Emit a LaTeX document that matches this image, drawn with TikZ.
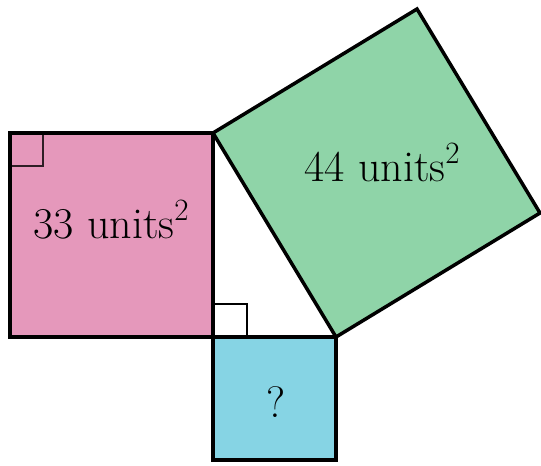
\documentclass[tikz,border=0pt]{standalone}
\newcommand{\supsq}{\raisebox{0.40em}{\fontsize{31}{31}\selectfont 2}}
\begin{document}
\begin{tikzpicture}[x=1pt,y=-1pt,
  sq/.style={draw=black,line width=3.5pt,line join=miter},
  anglemark/.style={draw=black,line width=1.3pt},
  lbl/.style={font=\fontsize{44}{52}\selectfont,inner sep=0pt}]
\definecolor{pinkc}{RGB}{229,152,187}
\definecolor{greenc}{RGB}{143,212,168}
\definecolor{bluec}{RGB}{134,212,228}
\useasboundingbox (0,0) rectangle (541,466);
\coordinate (A) at (213,133);
\coordinate (C) at (213,337);
\coordinate (B) at (336,337);
\coordinate (P1) at (10,133);
\coordinate (P2) at (10,337);
\coordinate (Q1) at (213,460);
\coordinate (Q2) at (336,460);
\coordinate (G1) at (417,9);
\coordinate (G2) at (540,213);
\fill[pinkc] (P1) -- (A) -- (C) -- (P2) -- cycle;
\fill[bluec] (C) -- (B) -- (Q2) -- (Q1) -- cycle;
\fill[greenc] (A) -- (G1) -- (G2) -- (B) -- cycle;
\draw[anglemark,draw=black!80!pinkc] (10,166) -- (43,166) -- (43,133);
\draw[anglemark] (213,304) -- (247,304) -- (247,337);
\draw[sq] (P1) -- (A) -- (C) -- (P2) -- cycle;
\draw[sq] (C) -- (B) -- (Q2) -- (Q1) -- cycle;
\draw[sq] (A) -- (G1) -- (G2) -- (B) -- cycle;
\node[lbl,anchor=base] (t1) at (111,238) {33 units\supsq};
\node[lbl,anchor=base] (t2) at (382,181) {44 units\supsq};
\node[lbl,anchor=base] (t3) at (276,417) {?};
\end{tikzpicture}
\end{document}
